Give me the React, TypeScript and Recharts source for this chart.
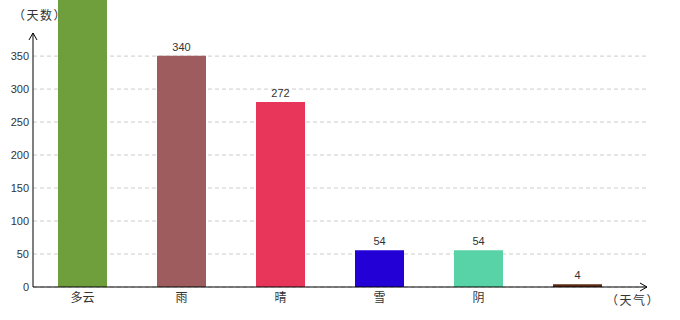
import React from 'react';
import { BarChart, Bar, XAxis, YAxis, CartesianGrid, ReferenceLine, LabelList, Cell } from 'recharts';

const categories = ['多云', '雨', '晴', '雪', '阴', ''];
const days = [460, 340, 272, 54, 54, 4];
const colors = ['#6f9e3d', '#9e5c5e', '#e8365a', '#2200d6', '#57d3a7', '#5c2a14'];
const yTicks = [0, 50, 100, 150, 200, 250, 300, 350];
const yAxisEnd = 385;

const data = categories.map((c, i) => ({ name: c, value: days[i] }));

const NUM_FONT = '"Liberation Sans", Arial, sans-serif';
const CJK_FONT = '"Noto Sans CJK SC", sans-serif';

const ArrowLine = (props: any) => {
  const { x1, y1, x2, y2 } = props;
  return (
    <g>
      <line x1={x1} y1={y1} x2={x2} y2={y2} stroke="#000" strokeWidth={1} />
      <path d={`M${x2 - 4},${y2 + 7} L${x2},${y2} L${x2 + 4},${y2 + 7}`} fill="none" stroke="#000" strokeWidth={1} />
    </g>
  );
};

const XLabel = (props: any) => {
  const { x, y, width } = props.viewBox;
  const ex = x + width;
  return (
    <g>
      <path d={`M${ex - 7},${y - 4} L${ex},${y} L${ex - 7},${y + 4}`} fill="none" stroke="#000" strokeWidth={1} />
      <text x={ex - 14} y={y + 18} textAnchor="middle" fontSize={12} fill="#333" fontFamily={CJK_FONT} letterSpacing={1.5}>（天气）</text>
    </g>
  );
};

const YLabel = (props: any) => {
  const { x, y, width } = props.viewBox;
  return (
    <text x={x + width + 7} y={y + 20} textAnchor="middle" fontSize={12} fill="#333" fontFamily={CJK_FONT} letterSpacing={1.5}>（天数）</text>
  );
};

export default function App() {
  return (
    <div style={{ position: 'absolute', left: 0, top: 0 }}>
      <BarChart width={680} height={320} data={data} margin={{ top: 0, right: 33, bottom: 0, left: 0 }}>
        <CartesianGrid
          yAxisId="left"
          horizontal
          vertical={false}
          syncWithTicks
          stroke="#cccccc"
          strokeDasharray="4 3"
        />
        <XAxis
          dataKey="name"
          padding={{ left: 0, right: 20 }}
          height={33}
          tickLine={false}
          tickSize={0}
          tickMargin={6}
          axisLine={{ stroke: '#000' }}
          tick={{ fontSize: 12, fill: '#333', fontFamily: CJK_FONT }}
          interval={0}
          label={<XLabel />}
        />
        <YAxis
          yAxisId="left"
          width={33}
          domain={[0, 435]}
          allowDataOverflow
          ticks={yTicks}
          axisLine={false}
          tickLine={false}
          tickSize={0}
          tickMargin={4}
          tick={{ fontSize: 11, fill: '#333', fontFamily: NUM_FONT }}
          label={<YLabel />}
        />
        <YAxis yAxisId="bar" orientation="right" width={0} hide domain={[0, 422]} allowDataOverflow />
        <ReferenceLine
          yAxisId="left"
          segment={[{ x: categories[0], y: 0 }, { x: categories[0], y: yAxisEnd }]}
          position="start"
          ifOverflow="visible"
          shape={<ArrowLine />}
        />
        <Bar yAxisId="bar" dataKey="value" barSize={49} isAnimationActive={false}>
          {data.map((d, i) => (
            <Cell key={i} fill={colors[i]} />
          ))}
          <LabelList dataKey="value" position="top" offset={5} fontSize={11} fill="#333" fontFamily={NUM_FONT} />
        </Bar>
      </BarChart>
    </div>
  );
}
